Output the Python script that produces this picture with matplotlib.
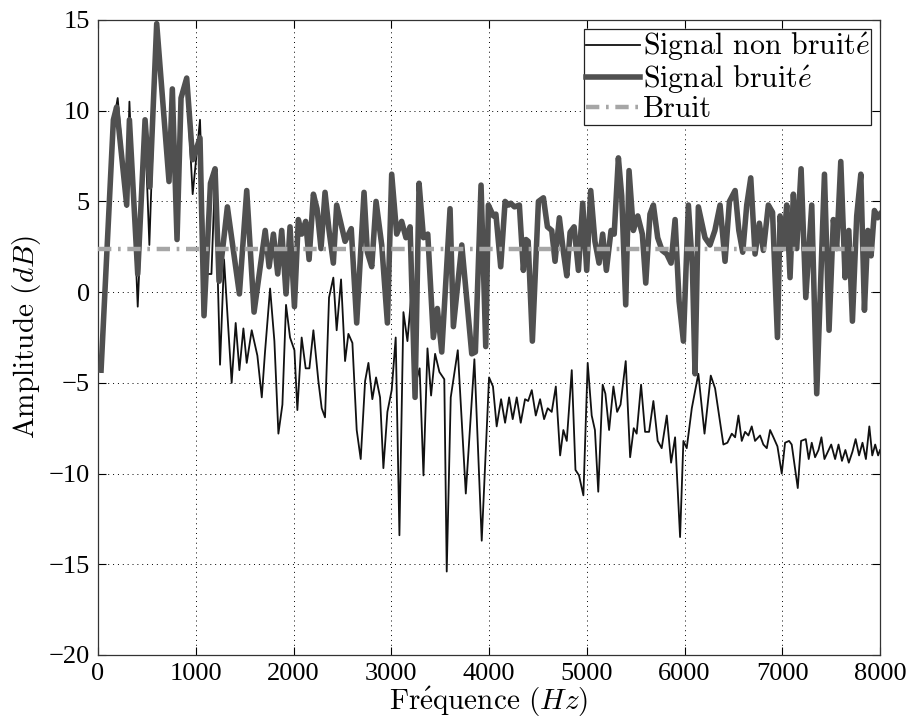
import matplotlib
matplotlib.use("Agg")
import matplotlib.pyplot as plt
import numpy as np

plt.rcParams['mathtext.fontset'] = 'cm'
plt.rcParams['font.family'] = ['Liberation Serif', 'DejaVu Serif']

# ---- data ----
freq_noisy = [31, 157, 190, 293, 321, 406, 481, 530, 600, 726, 760, 808, 849, 907, 968,
              1043, 1084, 1150, 1197, 1238, 1323, 1446, 1521, 1596, 1710, 1750, 1794, 1838,
              1879, 1923, 1964, 2009, 2049, 2083, 2124, 2159, 2203, 2240, 2281, 2322, 2363,
              2407, 2441, 2527, 2590, 2646, 2721, 2755, 2800, 2844, 2902, 2960, 3004, 3055,
              3106, 3150, 3192, 3243, 3284, 3329, 3373, 3430, 3471, 3516, 3601, 3635, 3721,
              3823, 3860, 3918, 3966, 3993, 4044, 4070, 4119, 4164, 4200, 4222, 4260, 4310,
              4351, 4378, 4400, 4443, 4505, 4556, 4597, 4641, 4675, 4719, 4761, 4795, 4829,
              4870, 4914, 4958, 4999, 5040, 5083, 5125, 5162, 5200, 5248, 5280, 5323, 5357,
              5398, 5432, 5476, 5521, 5568, 5603, 5646, 5681, 5725, 5770, 5818, 5862, 5903,
              5944, 5988, 6039, 6080, 6107, 6141, 6209, 6260, 6310, 6363, 6414, 6459, 6517,
              6555, 6595, 6636, 6677, 6721, 6765, 6806, 6857, 6900, 6950, 6977, 7011, 7045,
              7079, 7113, 7147, 7192, 7240, 7301, 7352, 7431, 7478, 7522, 7556, 7598, 7642,
              7680, 7717, 7761, 7803, 7840, 7875, 7908, 7942, 7976, 8000]
amp_noisy = [-4.3, 9.5, 10.2, 4.8, 9.5, 1.0, 9.5, 5.8, 14.8, 6.1, 11.2, 2.9, 10.7, 11.8, 7.3,
             8.5, -1.3, 6.0, 6.8, 0.6, 4.7, -0.1, 5.6, -1.1, 3.4, 1.4, 3.2, 1.0,
             3.4, -0.1, 3.6, -0.8, 4.0, 3.2, 3.9, 1.8, 5.4, 4.6, 2.4, 5.5, 3.4,
             1.6, 4.8, 2.8, 3.5, -1.7, 5.5, 2.2, 1.4, 5.0, 2.6, -1.7, 6.5, 3.2,
             3.9, 3.0, 3.6, -5.8, 6.0, 3.0, 3.2, -2.5, -0.9, -3.3, 4.6, -1.9, 2.6,
             -3.4, -3.3, 5.9, -3.0, 4.8, 4.2, 4.3, 1.4, 5.0, 4.8, 4.9, 4.7, 4.8,
             1.2, 2.9, 2.8, -2.7, 5.0, 5.2, 3.6, 3.4, 1.7, 4.1, 2.2, 0.9, 3.3,
             3.6, 1.2, 4.9, 1.2, 5.6, 2.8, 1.6, 3.2, 1.2, 3.4, 3.2, 7.4, 5.3,
             -0.7, 6.7, 3.4, 4.2, 3.2, 0.5, 4.3, 4.8, 3.0, 2.3, 2.1, 1.6, 4.0,
             -0.5, -2.7, 4.8, 1.4, -4.5, 4.7, 3.0, 2.6, 3.4, 4.8, 1.7, 5.0, 5.6,
             3.4, 2.2, 4.8, 6.3, 2.1, 3.8, 2.3, 4.8, 4.4, -2.5, 4.2, 2.4, 4.8,
             0.8, 5.4, 2.4, 6.8, -0.3, 4.8, -5.6, 6.5, -2.1, 4.0, 2.4, 7.2, 0.8,
             3.4, -1.6, 4.2, 6.5, -1.0, 3.4, 2.0, 4.5, 4.1, 4.3]

freq_clean = [31, 157, 201, 293, 321, 406, 481, 525, 600, 726, 760, 808, 849, 907, 968,
              1043, 1095, 1160, 1197, 1248, 1289, 1367, 1408, 1446, 1487, 1521, 1572, 1630,
              1675, 1708, 1760, 1804, 1845, 1886, 1923, 1964, 2009, 2039, 2083, 2124, 2162,
              2203, 2254, 2288, 2322, 2363, 2407, 2441, 2486, 2527, 2561, 2602, 2646, 2687,
              2732, 2766, 2806, 2844, 2885, 2919, 2960, 3004, 3045, 3083, 3124, 3165, 3209,
              3250, 3290, 3329, 3370, 3407, 3448, 3492, 3542, 3567, 3608, 3680, 3762, 3850,
              3925, 4000, 4040, 4078, 4123, 4164, 4205, 4242, 4283, 4324, 4368, 4400, 4437,
              4478, 4522, 4563, 4600, 4641, 4683, 4727, 4760, 4795, 4846, 4884, 4920, 4965,
              5009, 5050, 5083, 5117, 5162, 5190, 5228, 5272, 5310, 5345, 5398, 5443, 5480,
              5510, 5555, 5596, 5637, 5681, 5725, 5766, 5818, 5862, 5903, 5954, 5988, 6022,
              6074, 6141, 6204, 6268, 6312, 6397, 6438, 6483, 6517, 6551, 6585, 6619, 6653,
              6687, 6721, 6772, 6806, 6841, 6875, 6909, 6950, 6994, 7028, 7069, 7096, 7158,
              7192, 7240, 7270, 7301, 7335, 7370, 7400, 7431, 7465, 7500, 7540, 7575, 7610,
              7645, 7680, 7717, 7750, 7785, 7820, 7855, 7890, 7920, 7950, 7980, 8000]
amp_clean = [-4.4, 9.3, 10.7, 4.7, 10.5, -0.8, 9.0, 2.6, 14.6, 6.0, 11.0, 3.0, 10.5, 11.5, 5.4,
             9.5, 1.0, 1.0, 6.5, -4.0, 1.8, -5.0, -1.7, -4.3, -2.0, -3.9, -2.1, -3.5,
             -5.8, -3.3, 0.2, -2.7, -7.8, -6.2, -0.7, -2.5, -3.2, -6.5, -2.5, -4.2, -4.2,
             -2.1, -4.9, -6.4, -6.9, -0.3, 0.8, -2.1, 0.7, -3.8, -2.3, -2.8, -7.6, -9.2,
             -4.9, -3.9, -5.9, -4.7, -5.8, -9.7, -6.6, -5.4, -2.5, -13.4, -1.1, -2.7, 0.1,
             -5.0, -4.2, -10.1, -3.1, -5.7, -3.4, -4.4, -4.8, -15.4, -5.8, -3.2, -11.1, -3.7,
             -13.7, -4.7, -5.2, -7.4, -5.9, -7.2, -5.8, -7.0, -5.8, -7.2, -5.9, -6.0, -5.4,
             -6.8, -5.9, -7.0, -6.4, -6.6, -5.2, -9.0, -7.6, -8.2, -4.3, -9.8, -10.1, -11.2,
             -3.9, -6.8, -7.6, -11.0, -5.1, -5.6, -7.6, -5.2, -6.6, -6.2, -3.8, -9.1, -7.5,
             -7.8, -5.1, -7.7, -7.7, -6.0, -8.2, -8.6, -6.8, -9.4, -8.0, -13.5, -8.2, -8.6,
             -6.4, -4.5, -7.8, -4.6, -5.3, -8.4, -8.3, -7.8, -8.0, -6.8, -8.2, -7.7, -7.9,
             -7.4, -8.2, -7.9, -8.4, -8.6, -7.6, -8.0, -8.5, -10.0, -8.3, -8.2, -8.4, -10.8,
             -8.2, -8.1, -9.2, -8.3, -9.1, -8.7, -8.0, -9.2, -8.8, -8.4, -9.2, -8.4, -9.3,
             -8.7, -9.4, -8.8, -8.1, -9.0, -8.3, -9.2, -7.4, -9.0, -8.4, -9.0, -8.7]

noise_level = 2.4
x_ticks = [0, 1000, 2000, 3000, 4000, 5000, 6000, 7000, 8000]
y_ticks = [-20, -15, -10, -5, 0, 5, 10, 15]

fig = plt.figure(figsize=(9.12, 7.22), dpi=100)
ax = fig.add_axes([0.1075, 0.0928, 0.8575, 0.8795])

ax.plot(freq_clean, amp_clean, color='#111111', lw=1.3, label=r'Signal non bruit$\acute{e}$', zorder=2)
ax.plot(freq_noisy, amp_noisy, color='#505050', lw=4.0, label=r'Signal bruit$\acute{e}$', zorder=3)
ax.plot([0, 8000], [noise_level, noise_level], color='#a6a6a6', lw=3.2,
        linestyle=(0, (3, 1.5, 0.6, 1.5)), label='Bruit', zorder=4)

ax.set_xlim(0, 8000)
ax.set_ylim(-20, 15)
ax.set_xticks(x_ticks)
ax.set_yticks(y_ticks)
ax.set_xticklabels([str(v) for v in x_ticks])
ax.set_yticklabels([('\u2212' + str(-v)) if v < 0 else str(v) for v in y_ticks])
ax.tick_params(direction='in', top=True, right=True, length=6, width=0.8,
               labelsize=19, pad=6)
ax.grid(True, color='black', linestyle=(0, (1, 4)), linewidth=0.7)
for s in ax.spines.values():
    s.set_linewidth(0.9)
    s.set_color('#333333')

ax.set_xlabel(r'Fr$\acute{\mathrm{e}}$quence ($Hz$)', fontsize=21, family='cmr10', labelpad=0)
ax.set_ylabel(r'Amplitude ($dB$)', fontsize=21, family='cmr10', labelpad=4)

leg = ax.legend(loc='upper right', prop={'family': 'cmr10', 'size': 21.5},
                handlelength=1.8, handletextpad=0.1, borderpad=0.05, labelspacing=0.0,
                borderaxespad=0.3, fancybox=False, framealpha=1, edgecolor='#222222')
leg.get_frame().set_linewidth(0.9)

fig.savefig('out.png', dpi=100)
